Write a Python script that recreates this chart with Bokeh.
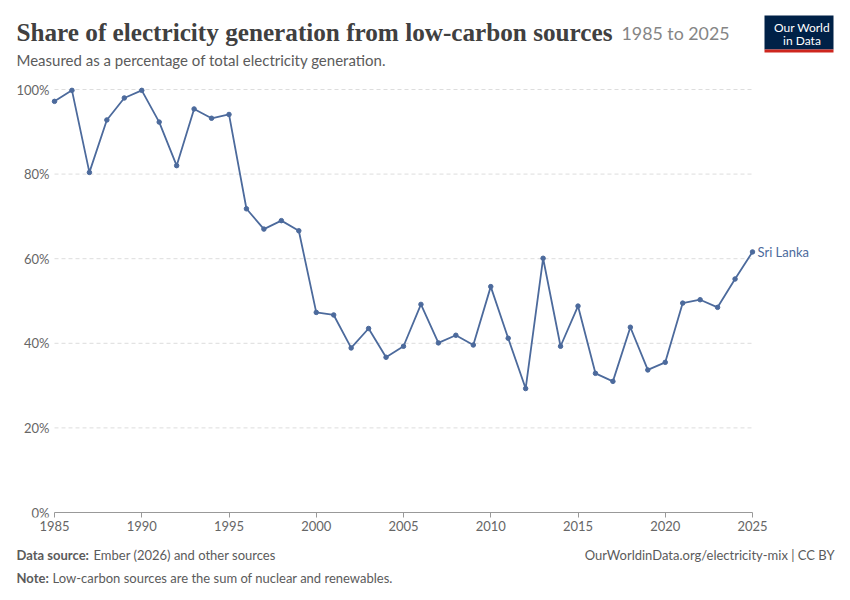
from bokeh.plotting import figure
from bokeh.layouts import column
from bokeh.models import Range1d, FixedTicker, Label, LinearAxis
from bokeh.core.properties import value
from bokeh.embed import file_html
from bokeh.resources import INLINE

# Sri Lanka, share of electricity from low-carbon sources (%)
years = list(range(1985, 2026))
share = [97.2, 99.8, 80.4, 92.8, 98.0, 99.8, 92.3, 82.0, 95.4, 93.2,
         94.1, 71.8, 67.0, 69.0, 66.6, 47.3, 46.7, 38.9, 43.5, 36.7,
         39.3, 49.2, 40.1, 41.9, 39.6, 53.4, 41.2, 29.3, 60.1, 39.3,
         48.8, 32.9, 31.0, 43.8, 33.7, 35.5, 49.5, 50.3, 48.5, 55.2,
         61.6]
country = "Sri Lanka"

y_ticks = [0, 20, 40, 60, 80, 100]
y_labels = ["0%", "20%", "40%", "60%", "80%", "100%"]
x_ticks = [1985, 1990, 1995, 2000, 2005, 2010, 2015, 2020, 2025]

title = "Share of electricity generation from low-carbon sources"
title_years = "1985 to 2025"
subtitle = "Measured as a percentage of total electricity generation."
source_label = "Data source:"
source_text = "Ember (2026) and other sources"
note_label = "Note:"
note_text = "Low-carbon sources are the sum of nuclear and renewables."
url_text = "OurWorldinData.org/electricity-mix | CC BY"

BLUE = "#4c6a9c"
GREY = "#666666"
TEXT_GREY = "#5b5b5b"
W = 840


def blank_figure(height):
    # figure whose data coordinates are pixels (y downwards)
    f = figure(width=W, height=height, output_backend="svg", toolbar_location=None,
               x_range=Range1d(0, W), y_range=Range1d(height, 0),
               x_axis_type=None, y_axis_type=None, min_border=0)
    f.outline_line_color = None
    f.xgrid.visible = False
    f.ygrid.visible = False
    return f


def put_text(f, x, y, text, size, color, font="Lato", style="normal", align="left"):
    f.text(x=[x], y=[y], text=[text], text_font=value(font), text_font_size=size,
           text_color=color, text_font_style=style, text_align=align,
           text_baseline="alphabetic")


# header
header = blank_figure(75)
put_text(header, 16, 32, title, "25.2px", "#404040", font="Liberation Serif", style="bold")
put_text(header, 621, 32, title_years, "17.8px", "#858585")
put_text(header, 16, 59, subtitle, "15px", TEXT_GREY)
header.quad(left=[764], right=[833], top=[15], bottom=[49], fill_color="#002147", line_color=None)
header.quad(left=[764], right=[833], top=[49], bottom=[52], fill_color="#ce261e", line_color=None)
put_text(header, 801.5, 27, "Our World", "12px", "white", align="center")
put_text(header, 801.5, 40, "in Data", "12px", "white", align="center")

# main chart: frame spans the whole width, 1985 sits at x=54;
# frame bottom is 5px under the 0% line so that its label is not cut
p = figure(width=W, height=467, output_backend="svg", toolbar_location=None,
           x_range=Range1d(1981.9054, 2030.0430), y_range=Range1d(-1.182, 103.31),
           min_border_left=0, min_border_right=0, min_border_top=0, min_border_bottom=25,
           x_axis_type=None, y_axis_type=None)
p.outline_line_color = None
p.xgrid.visible = False
p.ygrid.visible = False

xaxis = LinearAxis(ticker=FixedTicker(ticks=x_ticks))
xaxis.axis_line_color = None
xaxis.major_tick_line_color = "#999999"
xaxis.major_tick_out = 0
xaxis.major_tick_in = 5
xaxis.minor_tick_line_color = None
xaxis.major_label_standoff = 3
xaxis.major_label_text_font = "Lato"
xaxis.major_label_text_font_size = "13px"
xaxis.major_label_text_color = GREY
p.add_layout(xaxis, "below")

# baseline at 0%
p.segment(x0=[years[0]], x1=[years[-1]], y0=[0], y1=[0], line_color="#999999", line_width=1)

# y tick labels, right-aligned just left of the first year
p.text(x=[years[0]] * len(y_ticks), y=y_ticks, text=y_labels, x_offset=-5,
       text_align="right", text_baseline="middle", text_font=value("Lato"),
       text_font_size="13px", text_color=GREY)

# dashed gridlines between first and last year
grid_y = y_ticks[1:]
p.segment(x0=[years[0]] * len(grid_y), x1=[years[-1]] * len(grid_y), y0=grid_y, y1=grid_y,
          line_color="#dddddd", line_width=1, line_dash="4 3")

p.line(years, share, line_color=BLUE, line_width=1.8)
p.scatter(years, share, size=4.5, fill_color=BLUE, line_color=BLUE)

p.add_layout(Label(x=years[-1], y=share[-1], text=country, x_offset=5,
                   text_baseline="middle", text_font="Lato", text_font_size="13px",
                   text_color=BLUE))

# footer
footer = blank_figure(48)
put_text(footer, 16, 12.5, source_label, "13px", TEXT_GREY, style="bold")
put_text(footer, 93, 12.5, source_text, "13px", TEXT_GREY)
put_text(footer, 16, 35, note_label, "13px", TEXT_GREY, style="bold")
put_text(footer, 52, 35, note_text, "13px", TEXT_GREY)
put_text(footer, 834, 12.5, url_text, "13px", TEXT_GREY, align="right")

layout = column(header, p, footer, spacing=0)
open("out.html", "w").write(file_html(layout, INLINE))
